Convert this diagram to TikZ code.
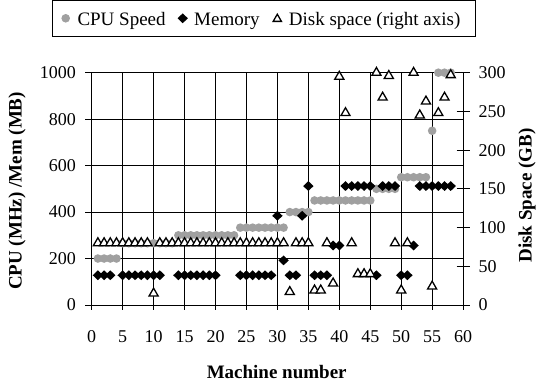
\documentclass[tikz,border=0pt]{standalone}
\usepackage{fontspec}
\setmainfont{Liberation Serif}
\usetikzlibrary{shapes.geometric}
\definecolor{cpugray}{RGB}{160,160,160}
\tikzset{
  cpu/.style={circle, fill=cpugray, inner sep=0pt, minimum size=8.6pt},
  mem/.style={diamond, fill=black, inner sep=0pt, minimum width=10.5pt, minimum height=10pt},
  dsk/.style={regular polygon, regular polygon sides=3, draw=black, line width=1.3pt, fill=white, inner sep=0pt, minimum size=10.5pt},
  gridline/.style={line width=0.8pt},
  ticklabel/.style={font=\fontsize{18}{20}\selectfont, inner sep=0pt},
  axistitle/.style={font=\fontsize{19}{22}\selectfont\bfseries, inner sep=0pt},
  legendtext/.style={font=\fontsize{19}{22}\selectfont, inner sep=0pt, anchor=base west},
}
\begin{document}
\begin{tikzpicture}[x=1pt, y=1pt]
\useasboundingbox (0,0) rectangle (538,387);
% legend
\draw[line width=0.8pt] (52.7,351) rectangle (475,386.2);
\node[cpu] (lgcpu) at (65.7,368.7) {};
\node[legendtext] (lgcputxt) at (77.3,361) {CPU Speed};
\node[mem] (lgmem) at (182.7,368.7) {};
\node[legendtext] (lgmemtxt) at (194,361) {Memory};
\node[dsk, minimum size=9.5pt] (lgdsk) at (277.3,368) {};
\node[legendtext] (lgdsktxt) at (288.7,361) {Disk space (right axis)};
% titles
\node[axistitle, rotate=90] (ytitle) at (17,196) {CPU (MHz) /Mem (MB)};
\node[axistitle, rotate=90] (y2title) at (527,191.5) {Disk Space (GB)};
\node[axistitle] (xtitle) at (276.7,15) {Machine number};
% plot area
\begin{scope}[shift={(91.7,82)}, x=6.19pt, y=0.2323pt]
  \foreach \v in {200,400,...,1000}
    \draw[gridline] (0,\v) -- (60,\v);
  \foreach \m in {5,10,...,55}
    \draw[gridline] (\m,0) -- (\m,1000);
  \draw[gridline] (0,0) -- (60,0);
  \draw[gridline] (0,0) -- (0,1000);
  \draw[gridline] (60,0) -- (60,1000);
  % left axis
  \foreach \v in {0,200,...,1000} {
    \draw[gridline] (0,\v) -- ++(-6.7pt,0);
    \node[ticklabel, anchor=east] (yl\v) at ([xshift=-15.7pt]0,\v) {\v};
  }
  % right axis
  \foreach \g in {0,50,...,300} {
    \draw[gridline] (60,{\g*10/3}) ++(-6.5pt,0) -- ++(13pt,0);
    \node[ticklabel, anchor=west] (yr\g) at ([xshift=15.3pt]60,{\g*10/3}) {\g};
  }
  % bottom axis
  \foreach \m in {0,5,...,60} {
    \draw[gridline] (\m,0) ++(0,4.5pt) -- ++(0,-9.5pt);
    \node[ticklabel] (xl\m) at ([yshift=-31.7pt]\m,0) {\m};
  }
  % CPU speed
  \foreach \a/\b/\v in {1/4/200, 5/13/266, 14/23/300, 24/31/333, 32/35/400,
      36/45/450, 46/49/500, 50/54/550, 55/55/750, 56/58/1000}
    \foreach \m in {\a,...,\b}
      \node[cpu] (cpu\m) at (\m,\v) {};
  % memory
  \foreach \a/\b/\v in {1/3/128, 5/11/128, 14/20/128, 24/29/128, 30/30/384,
      31/31/192, 32/33/128, 34/34/384, 35/35/512, 36/38/128, 39/40/256,
      41/45/512, 46/46/128, 47/49/512, 50/51/128, 52/52/256, 53/58/512}
    \foreach \m in {\a,...,\b}
      \node[mem] (mem\m) at (\m,\v) {};
  % disk space, right axis (GB)
  \foreach \a/\b/\g in {1/9/80, 10/10/15, 11/31/80, 32/32/17, 33/35/80,
      36/37/19, 38/38/80, 39/39/28, 40/40/295, 41/41/248, 42/42/80,
      43/45/40, 46/46/300, 47/47/268, 48/48/296, 49/49/80, 50/50/19,
      51/51/80, 52/52/300, 53/53/245, 54/54/263, 55/55/24, 56/56/248,
      57/57/268, 58/58/297}
    \foreach \m in {\a,...,\b}
      \node[dsk] (dsk\m) at (\m,{\g*10/3}) {};
\end{scope}
\end{tikzpicture}
\end{document}
